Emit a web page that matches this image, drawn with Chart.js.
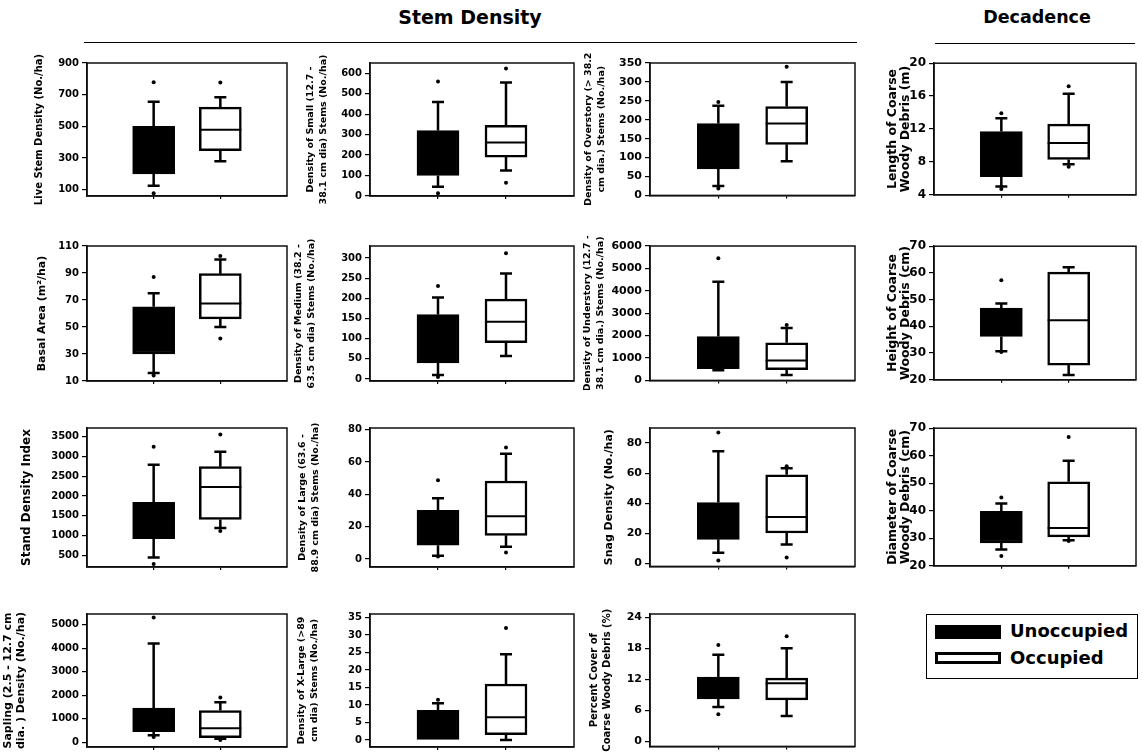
<!DOCTYPE html>
<html>
<head>
<meta charset="utf-8">
<script src="https://cdn.jsdelivr.net/npm/chart.js@4.4.0/dist/chart.umd.min.js"></script>
<style>
    body{margin:0;background:#fff;width:1142px;height:753px;position:relative;overflow:hidden;font-family:"DejaVu Sans",sans-serif;font-weight:bold;color:#000;}
    .panel{position:absolute;}
    .cabecera{position:absolute;font-weight:bold;text-align:center;}
    .regla{position:absolute;height:0;border-top:1.5px solid #000;}
    #leyenda{position:absolute;left:926px;top:614px;width:210px;height:63px;border:1px solid #000;}
    #leyenda div{position:absolute;}
</style>
</head>
<body>
<div class="cabecera" style="left:370px;top:6px;width:200px;font-size:19px;">Stem Density</div>
<div class="regla" style="left:84px;top:42px;width:773px;"></div>
<div class="cabecera" style="left:937px;top:7px;width:200px;font-size:17.5px;">Decadence</div>
<div class="regla" style="left:935px;top:43px;width:200px;"></div>

<div id="leyenda">
    <div style="left:8px;top:10px;width:66px;height:14px;background:#000;"></div>
    <div style="left:83px;top:5px;font-size:18px;">Unoccupied</div>
    <div style="left:8px;top:37px;width:60px;height:6px;border:3px solid #000;background:#fff;"></div>
    <div style="left:83px;top:32px;font-size:18px;">Occupied</div>
</div>

<script>
// ---- datos ----
const titulos = [
    "Live Stem Density (No./ha)",
    ["Density of Small (12.7 -", "38.1 cm dia) Stems (No./ha)"],
    ["Density of Overstory (> 38.2", "cm dia.) Stems (No./ha)"],
    ["Length of Coarse", "Woody Debris (m)"],
    "Basal Area (m\u00B2/ha)",
    ["Density of Medium (38.2 -", "63.5 cm dia) Stems (No./ha)"],
    ["Density of Understory (12.7 -", "38.1 cm dia.) Stems (No./ha)"],
    ["Height of Coarse", "Woody Debris (cm)"],
    "Stand Density Index",
    ["Density of Large (63.6 -", "88.9 cm dia) Stems (No./ha)"],
    "Snag Density (No./ha)",
    ["Diameter of Coarse", "Woody Debris (cm)"],
    ["Sapling (2.5 - 12.7 cm", "dia. ) Density (No./ha)"],
    ["Density of X-Large (>89", "cm dia) Stems (No./ha)"],
    ["Percent Cover of", "Coarse Woody Debris (%)"]
];

const yMin = [60, 0, 0, 4, 10, -5, 0, 20, 200, -5, -2, 20, -200, -2, -1];
const yMax = [900, 650, 350, 20, 110, 330, 6000, 70, 3725, 81, 90, 70, 5450, 36, 24.6];

const yTicks = [
    [100, 300, 500, 700, 900],
    [0, 100, 200, 300, 400, 500, 600],
    [0, 50, 100, 150, 200, 250, 300, 350],
    [4, 8, 12, 16, 20],
    [10, 30, 50, 70, 90, 110],
    [0, 50, 100, 150, 200, 250, 300],
    [0, 1000, 2000, 3000, 4000, 5000, 6000],
    [20, 30, 40, 50, 60, 70],
    [500, 1000, 1500, 2000, 2500, 3000, 3500],
    [0, 20, 40, 60, 80],
    [0, 20, 40, 60, 80],
    [20, 30, 40, 50, 60, 70],
    [0, 1000, 2000, 3000, 4000, 5000],
    [0, 5, 10, 15, 20, 25, 30, 35],
    [0, 6, 12, 18, 24]
];

// Unoccupied
const desBajo  = [125, 45, 25, 5.0, 16, 10, 450, 30.7, 442, 2, 7, 25.9, 300, 0, 6.6];
const desQ1    = [200, 100, 70, 6.2, 30, 40, 520, 36.2, 920, 8.5, 16, 28.3, 450, 0, 8.2];
const desQ3    = [500, 320, 190, 11.7, 65, 160, 1960, 46.8, 1840, 30, 40.5, 39.8, 1450, 8.5, 12.4];
const desAlto  = [655, 460, 237, 13.3, 75, 202, 4400, 48.6, 2790, 37.6, 74.5, 42.6, 4200, 10.5, 16.7];
const desAtip  = [[778, 78], [560, 13], [247, 18], [13.9, 4.7], [87, 14], [231, 5], [5450], [57.3, 30.4],
                  [3250, 274], [48.7, 1.5], [87, 2], [44.8, 23.6], [5300, 230], [11.5], [18.6, 5.2]];

// Occupied
const ocuBajo  = [280, 125, 90, 7.7, 50, 57, 240, 21.8, 1190, 7.5, 12.6, 29.3, 150, 0, 4.9];
const ocuQ1    = [346, 190, 135, 8.3, 56, 90, 480, 25.5, 1405, 14.6, 20.2, 30.5, 200, 1.5, 8];
const ocuMed   = [478, 262, 190, 10.3, 67.5, 142, 890, 42.3, 2230, 26.4, 30.9, 33.7, 600, 6.5, 11.2];
const ocuQ3    = [621, 345, 235, 12.6, 89.5, 198, 1680, 60.3, 2745, 48.2, 58.9, 50.5, 1350, 16, 12.2];
const ocuAlto  = [683, 555, 300, 16.3, 100, 262, 2340, 62.1, 3120, 65, 63.2, 58.2, 1700, 24.5, 18];
const ocuAtip  = [[777], [623, 65], [340], [17.2, 7.4], [102.6, 41.5], [312], [2470], [],
                  [3560, 1115], [69, 4], [64.5, 3.9], [66.8, 29], [1900, 100], [32], [20.3]];

// ---- disposicion ----
const colIzq     = [0, 290, 575, 862];
const colPlotIzq = [87, 370, 650, 934];
const colPlotDer = [288, 575, 856, 1137];
const filaArriba = [63, 246, 428, 614];
const filaAbajo  = [197, 382, 568, 748];
const fuenteTick = [10, 10, 11, 12];

const tituloX    = [39, 311, 589, 893, 42, 299, 588, 893, 27, 303, 609, 893, 8, 302, 594];
const tituloTam  = [10, 9.5, 9.5, 12.5, 11, 9.5, 9.5, 12.5, 12, 9.5, 11, 12.5, 11, 9.5, 10];
const tituloAlto = 13;

const cajaPlugin = {
    id: 'caja',
    afterDatasetsDraw(chart){
        let ctx = chart.ctx;
        let ys = chart.scales.y;
        let meta = chart.getDatasetMeta(0);
        let ds = chart.data.datasets[0];
        ctx.save();
        ctx.strokeStyle = '#000';
        meta.data.forEach(function(bar, i){
            let x = bar.x;
            let q = ds.data[i].y;
            let lo = ds.bajos[i], hi = ds.altos[i], med = ds.medianas[i];
            ctx.lineWidth = 2.5;
            ctx.beginPath();
            if(hi != null && hi > q[1]){
                ctx.moveTo(x, ys.getPixelForValue(q[1]));
                ctx.lineTo(x, ys.getPixelForValue(hi));
                ctx.moveTo(x - 6, ys.getPixelForValue(hi));
                ctx.lineTo(x + 6, ys.getPixelForValue(hi));
            }
            if(lo != null && lo < q[0]){
                ctx.moveTo(x, ys.getPixelForValue(q[0]));
                ctx.lineTo(x, ys.getPixelForValue(lo));
                ctx.moveTo(x - 6, ys.getPixelForValue(lo));
                ctx.lineTo(x + 6, ys.getPixelForValue(lo));
            }
            ctx.stroke();
            if(med != null){
                ctx.lineWidth = 2;
                ctx.beginPath();
                ctx.moveTo(x - bar.width / 2, ys.getPixelForValue(med));
                ctx.lineTo(x + bar.width / 2, ys.getPixelForValue(med));
                ctx.stroke();
            }
        });
        let a = chart.chartArea;
        ctx.lineWidth = 1.5;
        ctx.strokeStyle = '#111';
        ctx.strokeRect(a.left, a.top, a.right - a.left, a.bottom - a.top);
        ctx.restore();
    }
};

for(let i = 0; i < titulos.length; i++){
    dibujar(i);
}

function dibujar(i){
    let fila = Math.floor(i / 4);
    let col = i % 4;
    let izq = colIzq[col];
    let arriba = filaArriba[fila] - 10;
    let ancho = colPlotDer[col] - izq + 3;
    let alto = filaAbajo[fila] - arriba + 8;

    let div = document.createElement('div');
    div.className = 'panel';
    div.style.left = izq + 'px';
    div.style.top = arriba + 'px';
    div.style.width = ancho + 'px';
    div.style.height = alto + 'px';
    let canvas = document.createElement('canvas');
    div.appendChild(canvas);
    document.body.appendChild(div);

    let atipicos = [];
    desAtip[i].forEach(function(v){ atipicos.push({x: 1, y: v}); });
    ocuAtip[i].forEach(function(v){ atipicos.push({x: 2, y: v}); });

    let padTitulo = tituloX[i] - izq - tituloAlto / 2;

    new Chart(canvas.getContext('2d'), {
        type: 'bar',
        data: {
            datasets: [
                {
                    type: 'bar',
                    data: [
                        {x: 1, y: [desQ1[i], desQ3[i]]},
                        {x: 2, y: [ocuQ1[i], ocuQ3[i]]}
                    ],
                    backgroundColor: ['#000', '#fff'],
                    borderColor: '#000',
                    borderWidth: 2.5,
                    borderSkipped: false,
                    barThickness: 42,
                    bajos: [desBajo[i], ocuBajo[i]],
                    altos: [desAlto[i], ocuAlto[i]],
                    medianas: [null, ocuMed[i]]
                },
                {
                    type: 'scatter',
                    data: atipicos,
                    pointRadius: 2,
                    pointBackgroundColor: '#000',
                    pointBorderWidth: 0
                }
            ]
        },
        options: {
            responsive: true,
            maintainAspectRatio: false,
            animation: false,
            layout: {
                padding: {top: 10, right: 3, left: 0, bottom: 0}
            },
            plugins: {
                legend: {display: false},
                tooltip: {enabled: false}
            },
            scales: {
                x: {
                    type: 'linear',
                    min: 0,
                    max: 3,
                    offset: false,
                    afterBuildTicks: function(s){ s.ticks = [{value: 1}, {value: 2}]; },
                    afterFit: function(s){ s.height = 8; },
                    ticks: {display: false},
                    grid: {offset: false, drawOnChartArea: false, drawTicks: true, tickLength: 3, color: '#000', lineWidth: 1.2},
                    border: {display: true, color: '#000', width: 1.5}
                },
                y: {
                    min: yMin[i],
                    max: yMax[i],
                    afterBuildTicks: function(s){ s.ticks = yTicks[i].map(function(v){ return {value: v}; }); },
                    afterFit: function(s){ s.width = colPlotIzq[col] - izq; },
                    ticks: {
                        autoSkip: false,
                        padding: 3,
                        color: '#000',
                        font: {family: 'DejaVu Sans', weight: 'bold', size: fuenteTick[col]},
                        callback: function(v){ return String(v); }
                    },
                    grid: {drawOnChartArea: false, drawTicks: true, tickLength: 5, color: '#000', lineWidth: 1.2},
                    border: {display: true, color: '#000', width: 1.5},
                    title: {
                        display: true,
                        text: titulos[i],
                        color: '#000',
                        padding: {top: padTitulo, bottom: 0},
                        font: {family: 'DejaVu Sans', weight: 'bold', size: tituloTam[i], lineHeight: tituloAlto + 'px'}
                    }
                }
            }
        },
        plugins: [cajaPlugin]
    });
}
</script>
</body>
</html>
